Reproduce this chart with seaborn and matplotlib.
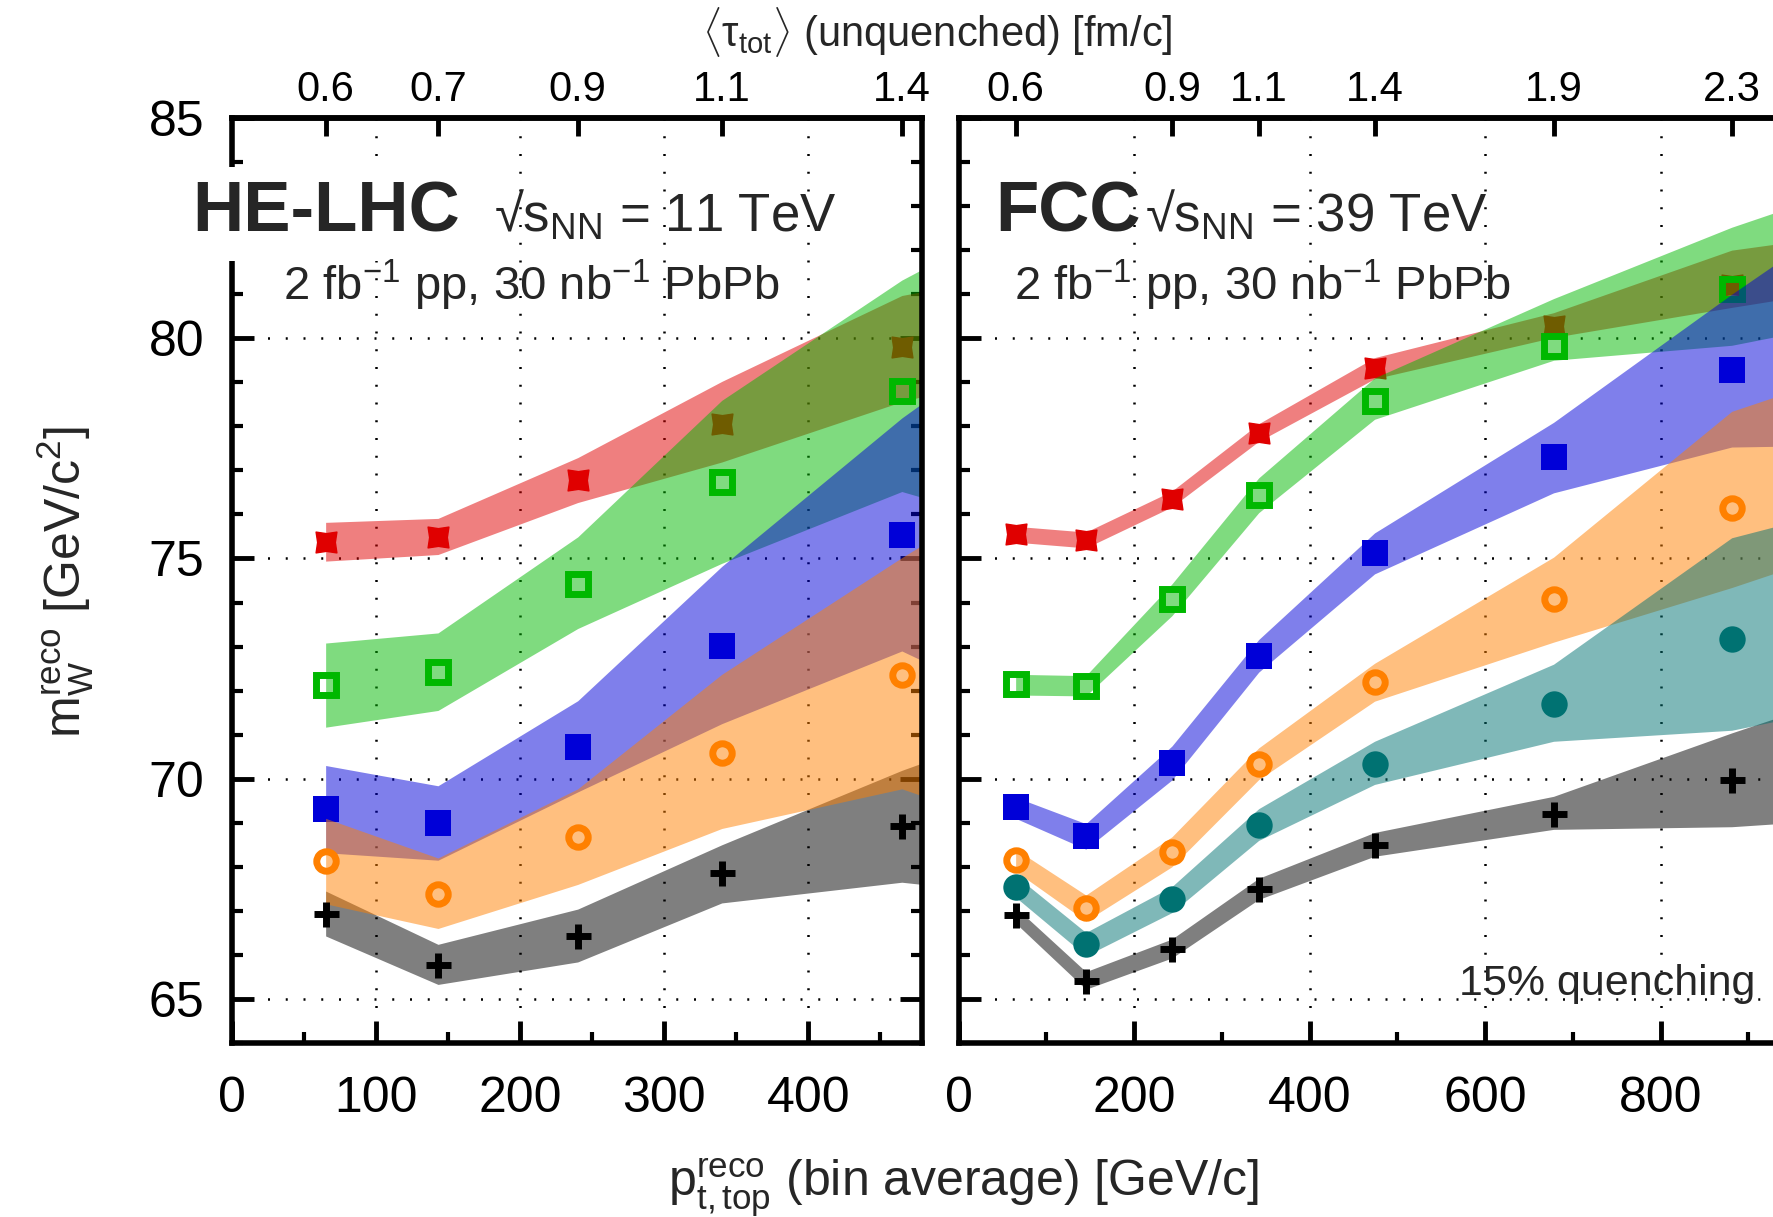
import matplotlib
matplotlib.use("Agg")
import matplotlib.pyplot as plt
from matplotlib.ticker import MultipleLocator, FixedLocator
from matplotlib.path import Path
import pandas as pd
import seaborn as sns

# ---------------- data : HE-LHC (left panel) ----------------
# last bin (x=678) lies outside the visible x-range; only its band edge shows
he_x = [65, 143, 240, 340, 465, 678]
he_tau_pos = [65, 143, 240, 340, 465]
he_tau_lbl = ["0.6", "0.7", "0.9", "1.1", "1.4"]

he_red = [75.37, 75.49, 76.78, 78.06, 79.79, 81.5]
he_red_lo = [74.94, 75.09, 76.27, 77.19, 78.56, 80.3]
he_red_hi = [75.82, 75.91, 77.29, 79.02, 80.97, 82.3]

he_green = [72.12, 72.43, 74.43, 76.74, 78.80, 79.8]
he_green_lo = [71.17, 71.55, 73.41, 74.89, 76.52, 74.5]
he_green_hi = [73.08, 73.31, 75.49, 78.59, 81.32, 85.0]

he_blue = [69.32, 68.99, 70.72, 73.02, 75.54, 76.4]
he_blue_lo = [68.32, 68.15, 69.70, 71.25, 72.90, 69.6]
he_blue_hi = [70.30, 69.84, 71.77, 74.82, 78.19, 83.2]

he_orange = [68.13, 67.38, 68.67, 70.58, 72.36, 73.4]
he_orange_lo = [67.16, 66.60, 67.60, 68.87, 69.77, 67.4]
he_orange_hi = [69.10, 68.20, 69.77, 72.37, 75.02, 79.3]

he_black = [66.94, 65.77, 66.43, 67.85, 68.92, 69.8]
he_black_lo = [66.43, 65.33, 65.84, 67.18, 67.65, 66.9]
he_black_hi = [67.45, 66.24, 67.04, 68.50, 70.19, 72.7]

# ---------------- data : FCC (right panel) ----------------
fcc_x = [65, 145, 243, 342, 474, 678, 881, 1100]
fcc_tau_pos = [65, 243, 342, 474, 678, 881]
fcc_tau_lbl = ["0.6", "0.9", "1.1", "1.4", "1.9", "2.3"]

fcc_red = [75.55, 75.42, 76.35, 77.86, 79.32, 80.27, 81.21, 82.0]
fcc_red_lo = [75.37, 75.24, 76.17, 77.66, 79.08, 80.02, 80.70, 81.4]
fcc_red_hi = [75.73, 75.60, 76.53, 78.06, 79.56, 80.58, 82.00, 82.6]

fcc_green = [72.14, 72.11, 74.07, 76.43, 78.58, 79.83, 81.11, 82.3]
fcc_green_lo = [71.90, 71.88, 73.70, 76.04, 78.16, 79.50, 79.84, 80.7]
fcc_green_hi = [72.37, 72.34, 74.42, 76.83, 79.10, 80.90, 82.52, 84.0]

fcc_blue = [69.35, 68.69, 70.35, 72.78, 75.12, 77.30, 79.27, 80.8]
fcc_blue_lo = [69.10, 68.40, 69.97, 72.42, 74.65, 76.49, 77.53, 77.6]
fcc_blue_hi = [69.58, 68.98, 70.74, 73.16, 75.58, 78.09, 81.00, 84.0]

fcc_orange = [68.15, 67.06, 68.34, 70.34, 72.19, 74.07, 76.15, 77.7]
fcc_orange_lo = [67.90, 66.77, 68.00, 69.98, 71.76, 73.10, 74.34, 75.8]
fcc_orange_hi = [68.40, 67.36, 68.68, 70.70, 72.62, 75.03, 78.34, 79.8]

fcc_teal = [67.55, 66.24, 67.26, 68.95, 70.34, 71.70, 73.18, 74.3]
fcc_teal_lo = [67.31, 65.98, 66.96, 68.60, 69.87, 70.85, 71.10, 72.0]
fcc_teal_hi = [67.80, 66.51, 67.55, 69.32, 70.85, 72.60, 75.47, 76.6]

fcc_black = [66.91, 65.40, 66.14, 67.50, 68.49, 69.20, 69.98, 70.8]
fcc_black_lo = [66.72, 65.22, 65.93, 67.26, 68.24, 68.85, 68.91, 69.2]
fcc_black_hi = [67.08, 65.62, 66.36, 67.74, 68.78, 69.60, 71.04, 72.5]

# ---------------- style ----------------
sns.set_theme(style="white")
plt.rcParams["font.family"] = ["Liberation Sans", "DejaVu Sans"]
plt.rcParams["mathtext.fontset"] = "custom"
plt.rcParams["mathtext.rm"] = "Liberation Sans"
plt.rcParams["mathtext.it"] = "Liberation Sans:italic"
plt.rcParams["mathtext.bf"] = "Liberation Sans:bold"
plt.rcParams["axes.linewidth"] = 4.0
plt.rcParams["axes.edgecolor"] = "black"

# notched-square marker used for the red series
d = 0.15
notched = Path([(-1, -1), (0, -1 + d), (1, -1), (1 - d, 0), (1, 1),
                (0, 1 - d), (-1, 1), (-1 + d, 0), (-1, -1)],
               [Path.MOVETO] + [Path.LINETO] * 7 + [Path.CLOSEPOLY])

C = {
    "red": "#E00000",
    "green": "#00B800",
    "blue": "#0000D8",
    "orange": "#FF8000",
    "teal": "#007272",
    "black": "#000000",
}
MK = {
    "red": dict(marker=notched, markersize=15, markeredgewidth=1.0, fill=True),
    "green": dict(marker="s", markersize=14.5, markeredgewidth=5, fill=False),
    "blue": dict(marker="s", markersize=19, markeredgewidth=0, fill=True),
    "orange": dict(marker="o", markersize=14, markeredgewidth=5, fill=False),
    "teal": dict(marker="o", markersize=19, markeredgewidth=0, fill=True),
    "black": dict(marker="+", markersize=18, markeredgewidth=5, fill=True),
}

W, H = 1773, 1217
fig = plt.figure(figsize=(W / 100, H / 100), dpi=100)
fig.patch.set_facecolor("white")

y_top, y_bot = 118, 1043
axL = fig.add_axes([232 / W, 1 - y_bot / H, 690 / W, (y_bot - y_top) / H])
axR = fig.add_axes([958.6 / W, 1 - y_bot / H, 877.5 / W, (y_bot - y_top) / H])


def draw_band(ax, x, lo, hi, key, z):
    ax.fill_between(x, lo, hi, color=C[key], alpha=0.5, linewidth=0, zorder=z)


def draw_markers(ax, x, m, key, z):
    col = C[key]
    st = MK[key]
    df = pd.DataFrame({"x": x, "y": m})
    sns.lineplot(
        data=df, x="x", y="y", ax=ax, estimator=None, errorbar=None, sort=False,
        linestyle="", marker=st["marker"], markersize=st["markersize"],
        markeredgewidth=st["markeredgewidth"], markeredgecolor=col,
        markerfacecolor=col if st["fill"] else "none", color=col, zorder=z,
    )


# HE-LHC
z = 1.0
for key, m, lo, hi in [("red", he_red, he_red_lo, he_red_hi),
                       ("green", he_green, he_green_lo, he_green_hi),
                       ("blue", he_blue, he_blue_lo, he_blue_hi)]:
    draw_band(axL, he_x, lo, hi, key, z); z += 0.01
    draw_markers(axL, he_x, m, key, z); z += 0.01
draw_band(axL, he_x, he_black_lo, he_black_hi, "black", z); z += 0.01
draw_band(axL, he_x, he_orange_lo, he_orange_hi, "orange", z); z += 0.01
draw_markers(axL, he_x, he_orange, "orange", z); z += 0.01
draw_markers(axL, he_x, he_black, "black", z); z += 0.01

# FCC
z = 1.0
for key, m, lo, hi in [("red", fcc_red, fcc_red_lo, fcc_red_hi),
                       ("green", fcc_green, fcc_green_lo, fcc_green_hi),
                       ("blue", fcc_blue, fcc_blue_lo, fcc_blue_hi)]:
    draw_band(axR, fcc_x, lo, hi, key, z); z += 0.01
    draw_markers(axR, fcc_x, m, key, z); z += 0.01
draw_band(axR, fcc_x, fcc_black_lo, fcc_black_hi, "black", z); z += 0.01
draw_band(axR, fcc_x, fcc_orange_lo, fcc_orange_hi, "orange", z); z += 0.01
draw_markers(axR, fcc_x, fcc_orange, "orange", z); z += 0.01
draw_band(axR, fcc_x, fcc_teal_lo, fcc_teal_hi, "teal", z); z += 0.01
draw_markers(axR, fcc_x, fcc_teal, "teal", z); z += 0.01
draw_markers(axR, fcc_x, fcc_black, "black", z); z += 0.01

grid_ls = (0, (0.8, 6.3))
for ax, xmax, xmaj, xmin, tpos, tlbl in [
    (axL, 479, [0, 100, 200, 300, 400], 50, he_tau_pos, he_tau_lbl),
    (axR, 1000, [0, 200, 400, 600, 800], 100, fcc_tau_pos, fcc_tau_lbl),
]:
    ax.set_xlim(0, xmax)
    ax.set_ylim(64, 85)
    ax.set_facecolor("white")
    ax.set_xlabel("")
    ax.set_ylabel("")
    ax.xaxis.set_major_locator(FixedLocator(xmaj))
    ax.xaxis.set_minor_locator(MultipleLocator(xmin))
    ax.yaxis.set_major_locator(MultipleLocator(5))
    ax.yaxis.set_minor_locator(MultipleLocator(1))
    ax.set_axisbelow(True)
    ax.grid(True, which="major", color="black", linestyle=grid_ls, linewidth=1.8)
    ax.tick_params(which="both", direction="in", top=False, bottom=True,
                   left=True, right=True, colors="black")
    ax.tick_params(which="major", length=16, width=3.5)
    ax.tick_params(which="minor", length=8, width=3)
    ax.tick_params(axis="x", which="major", labelsize=36, pad=24)
    ax.tick_params(axis="y", which="major", labelsize=36, pad=20)
    for sp in ax.spines.values():
        sp.set_linewidth(4.0)
        sp.set_color("black")
        sp.set_zorder(5)
    sec = ax.secondary_xaxis("top")
    sec.set_xticks(tpos, labels=tlbl)
    sec.tick_params(direction="in", length=13, width=3.5, labelsize=30, pad=6,
                    colors="black")
    sec.spines["top"].set_linewidth(4.0)

axR.tick_params(axis="y", labelleft=False)
axL.tick_params(axis="y", labelright=False)


def px(x, y):
    return x / W, 1 - y / H


fig.text(*px(192, 232), "HE-LHC", fontsize=51, fontweight="bold", ha="left",
         va="baseline", zorder=10,
         bbox=dict(boxstyle="square,pad=0.2", fc="white", ec="none"))
fig.text(*px(494, 232), r"√$\mathrm{s}_\mathrm{NN}$ = 11 TeV", fontsize=38,
         ha="left", va="baseline", zorder=10)
fig.text(*px(283, 300), r"2 fb$^{-1}$ pp, 30 nb$^{-1}$ PbPb", fontsize=34,
         ha="left", va="baseline", zorder=10)
fig.text(*px(995, 232), "FCC", fontsize=51, fontweight="bold", ha="left",
         va="baseline", zorder=10)
fig.text(*px(1145, 232), r"√$\mathrm{s}_\mathrm{NN}$ = 39 TeV", fontsize=38,
         ha="left", va="baseline", zorder=10)
fig.text(*px(1014, 300), r"2 fb$^{-1}$ pp, 30 nb$^{-1}$ PbPb", fontsize=34,
         ha="left", va="baseline", zorder=10)
fig.text(*px(1459, 995), "15% quenching", fontsize=31, ha="left",
         va="baseline", zorder=10)
fig.text(*px(937, 47), r"$\langle\mathrm{\tau}_\mathrm{tot}\rangle$ (unquenched) [fm/c]",
         fontsize=30, ha="center", va="baseline")
fig.text(*px(964, 1196), r"$\mathrm{p}^\mathrm{reco}_\mathrm{t,top}$ (bin average) [GeV/c]",
         fontsize=36, ha="center", va="baseline")
fig.text(*px(65, 582), r"$\mathrm{m}^\mathrm{reco}_\mathrm{W}$ [GeV/c$^2$]",
         fontsize=36, rotation=90, ha="center", va="center")

fig.savefig("out.png", dpi=100, facecolor="white")
